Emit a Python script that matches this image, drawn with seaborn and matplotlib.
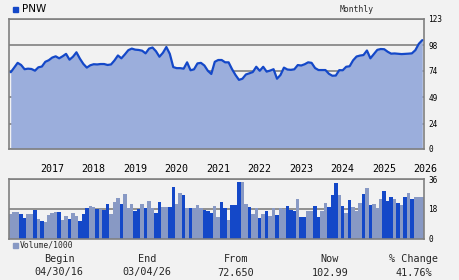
import matplotlib
matplotlib.use("Agg")
import matplotlib.pyplot as plt
import seaborn as sns
import pandas as pd
import numpy as np

# ---------------- data ----------------
ticker = "PNW"
period = "Monthly"
year_labels = ["2017", "2018", "2019", "2020", "2021", "2022", "2023", "2024", "2025", "2026"]
year_start_month_index = [9, 21, 33, 45, 57, 69, 81, 93, 105, 117]

price = [72.65, 77, 81.5, 79.5, 75.5, 76, 75.7, 74.1, 77.3, 78,
         82.5, 84, 86.5, 87.7, 85.8, 87.7, 90, 84.5, 87.3, 91.5,
         85.5, 80.5, 77, 79.2, 80.2, 80, 80.4, 80.4, 79.5, 80,
         83.8, 88.5, 85.8, 89.5, 93.5, 95, 94, 93.7, 93, 90.5,
         95, 96, 92.5, 87.3, 91, 96.5, 90, 77.5, 76.5, 76.5,
         76, 82, 74.5, 75.4, 81, 81.5, 79, 74, 71, 82.5,
         84.2, 84.2, 82, 82, 75.5, 70, 65.4, 66.5, 70.5, 71.6,
         72.8, 77.8, 74, 77.8, 73.2, 74.2, 75.5, 66.5, 70, 77,
         75.2, 74.9, 75.4, 79.4, 79, 80.2, 82, 81.5, 76.6, 74.7,
         74.7, 74.7, 71.2, 69.3, 69.5, 74.6, 74.5, 77.8, 78.3, 83.9,
         87.5, 88.4, 88.9, 93.2, 85.8, 89.8, 93.8, 94.6, 94.4, 92,
         90.2, 90.4, 90.1, 89.8, 90, 90.2, 90.5, 93.5, 99.5, 102.99]

volume = [15, 16.2, 16.2, 15, 12.5, 15, 15, 17.4, 11.9, 10.7,
          10.1, 14.3, 15.6, 16.2, 16.2, 11.3, 13.7, 11.9, 15.6, 13.7,
          10.7, 15, 18.6, 19.8, 19.2, 18, 18, 17.4, 21, 15,
          22.2, 24.7, 21, 27.1, 18.6, 21, 16.8, 18.0, 21, 18.6,
          22.8, 18.6, 15.6, 22.2, 19.2, 19.2, 19.2, 31.3, 21, 27.7,
          26.5, 18.6, 18.6, 18.6, 20.4, 18.6, 17.4, 16.8, 15.6, 19.8,
          13.2, 22.2, 18.4, 11.3, 20.4, 20.4, 34.4, 34.4, 21, 19.2,
          15, 18.6, 12.5, 15, 16.8, 13.8, 18.6, 14.4, 18.6, 18.0,
          19.8, 17.4, 16.8, 24.1, 13.2, 13.2, 16.8, 16.8, 19.8, 13.2,
          16.8, 21.6, 19.2, 26.5, 33.8, 26.5, 19.8, 15.6, 23.5, 19.2,
          16.8, 21.6, 27.1, 30.7, 20.4, 21, 18.6, 24.1, 28.9, 22.8,
          25.3, 24.1, 21.6, 20.4, 25.3, 27.7, 24.1, 25.3, 25.3, 25.3]

vol_kind = list("LLLDDLLDLD" "LLLLDLLDLL" "DDDLLDLDDL" "LLDLLLDDLD"
                "LLDDLLDDLL" "DLDLLLDDDL" "LDDLDDDLLD" "LLDLDLLDLL"
                "DDDLDDLLDD" "LLDDDLDLDL" "LLDLDLLLDD" "DLDLDLDLLL")

price_ticks = [0, 24, 49, 74, 98, 123]
vol_ticks = [0, 18, 36]

footer_titles = ["Begin", "End", "From", "Now", "% Change"]
footer_values = ["04/30/16", "03/04/26", "72.650", "102.99", "41.76%"]

# ---------------- style ----------------
BG = "#f2f2f2"
LINE = "#1448c8"
FILL = "#9baedc"
DARK = "#1448c8"
LIGHT = "#8899c4"
FRAME = "#808080"
MONO = ["DejaVu Sans Mono"]

sns.set_theme(style="white")
plt.rcParams["font.family"] = MONO

W, H = 460, 280
fig = plt.figure(figsize=(W / 100, H / 100), dpi=100, facecolor=BG)

def rect(x0, y0, x1, y1):
    return [x0 / W, 1 - y1 / H, (x1 - x0) / W, (y1 - y0) / H]

ax_p = fig.add_axes(rect(9, 19, 424, 149))
ax_v = fig.add_axes(rect(9, 179.3, 424, 238.7))

idx = np.arange(len(price))
df_p = pd.DataFrame({"m": idx, "price": price})
df_v = pd.DataFrame({"m": idx, "vol": volume, "kind": vol_kind})
bar_colors = [DARK if k == "D" else LIGHT for k in vol_kind]

for ax in (ax_p, ax_v):
    ax.set_facecolor(BG)
    for s in ax.spines.values():
        s.set_color(FRAME)
        s.set_linewidth(1.2)
    ax.set_axisbelow(True)

# price panel
ax_p.fill_between(df_p["m"], df_p["price"], 0, color=FILL, lw=0, zorder=2)
sns.lineplot(data=df_p, x="m", y="price", ax=ax_p, color=LINE, lw=1.6, zorder=3)
ax_p.set_xlim(-0.5, len(price) - 0.5)
ax_p.set_ylim(0, 123)
ax_p.set_yticks(price_ticks)
ax_p.yaxis.tick_right()
ax_p.tick_params(axis="y", length=0, pad=3, labelsize=5.6, colors="black")
ax_p.set_xticks([])
ax_p.grid(axis="y", color=FRAME, lw=1.2)
ax_p.set_xlabel("")
ax_p.set_ylabel("")

# volume panel
sns.barplot(data=df_v, x="m", y="vol", hue="m", palette=bar_colors,
            dodge=False, width=1.0, linewidth=0, saturation=1, errorbar=None,
            legend=False, ax=ax_v, zorder=2)
for p in ax_v.patches:
    p.set_antialiased(False)
ax_v.set_xlim(-0.5, len(price) - 0.5)
ax_v.set_ylim(0, 36)
ax_v.set_yticks(vol_ticks)
ax_v.yaxis.tick_right()
ax_v.tick_params(axis="y", length=0, pad=3, labelsize=5.6, colors="black")
ax_v.grid(axis="y", color=FRAME, lw=1.2)
ax_v.grid(axis="x", visible=False)
ax_v.set_xticks([m - 0.5 for m in year_start_month_index])
ax_v.set_xticklabels(year_labels)
ax_v.tick_params(axis="x", top=True, labeltop=True, bottom=False, labelbottom=False,
                 length=0, pad=4, labelsize=7.2, colors="black")
for t in ax_v.get_xticklabels():
    t.set_ha("left")
ax_v.set_xlabel("")
ax_v.set_ylabel("")

# header
fig.patches.append(plt.Rectangle((13 / W, 1 - 12 / H), 5 / W, 5 / H,
                                 transform=fig.transFigure, color=LINE, figure=fig))
fig.text(22 / W, 1 - 9.5 / H, ticker, fontsize=7.5, va="center", ha="left",
         family=["DejaVu Sans"], color="black")
fig.text(357 / W, 1 - 9 / H, period, fontsize=5.8, va="center", ha="center")

# volume legend
fig.patches.append(plt.Rectangle((13 / W, 1 - 247.5 / H), 5 / W, 5 / H,
                                 transform=fig.transFigure, color=LIGHT, figure=fig))
fig.text(20 / W, 1 - 245 / H, "Volume/1000", fontsize=5.8, va="center", ha="left")

# footer
footer_x = [59, 147, 236, 330, 414]
for x, t, v in zip(footer_x, footer_titles, footer_values):
    fig.text(x / W, 1 - 259 / H, t, fontsize=7.3, va="center", ha="center")
    fig.text(x / W, 1 - 272.5 / H, v, fontsize=7.3, va="center", ha="center")

fig.savefig("out.png", dpi=100, facecolor=BG)
